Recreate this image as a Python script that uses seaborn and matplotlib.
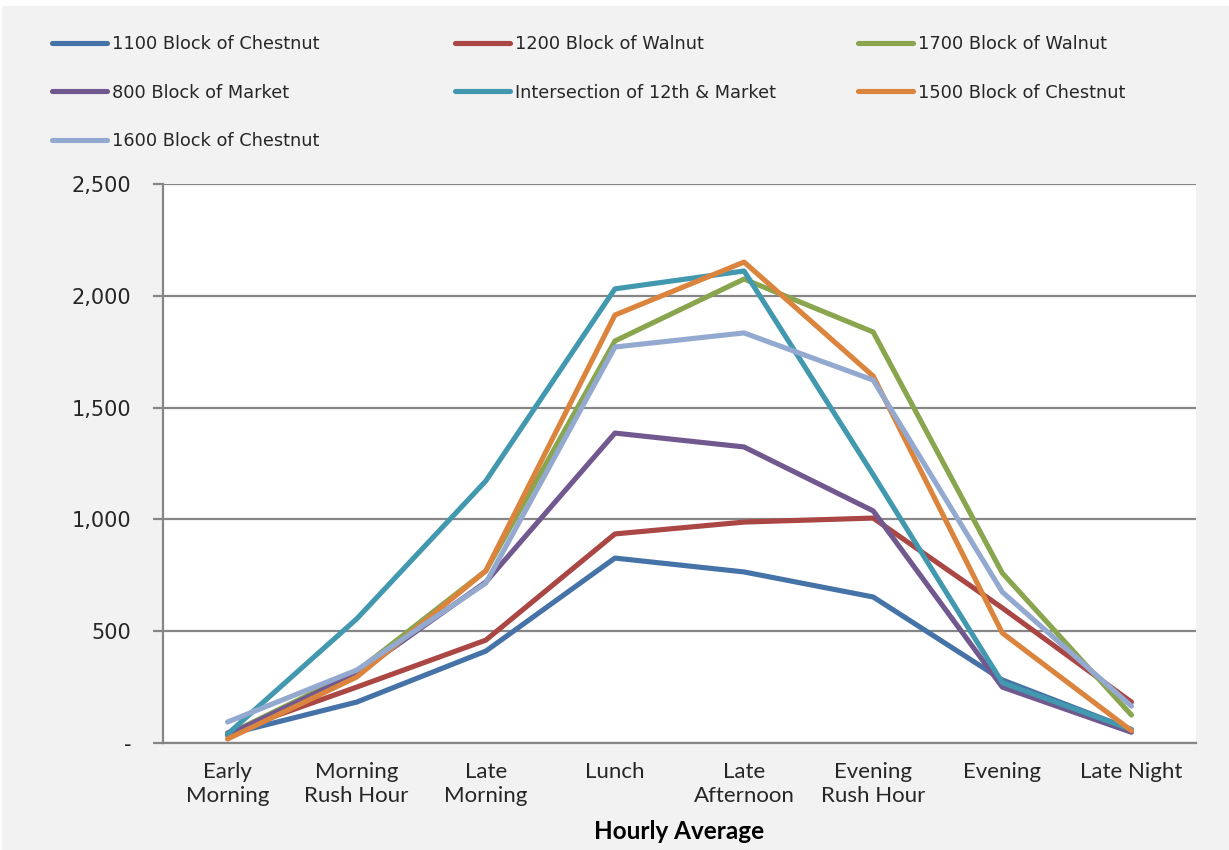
import matplotlib
matplotlib.use("Agg")
import matplotlib.pyplot as plt
import seaborn as sns
import pandas as pd
from matplotlib.patches import Rectangle
from matplotlib.ticker import FixedLocator, FuncFormatter

categories = ["Early\nMorning", "Morning\nRush Hour", "Late\nMorning", "Lunch",
              "Late\nAfternoon", "Evening\nRush Hour", "Evening", "Late Night"]

series_names = ["1100 Block of Chestnut", "1200 Block of Walnut", "1700 Block of Walnut",
                "800 Block of Market", "Intersection of 12th & Market",
                "1500 Block of Chestnut", "1600 Block of Chestnut"]

chestnut_1100 = [38, 183, 411, 827, 765, 653, 282, 60]
walnut_1200 = [45, 250, 460, 935, 988, 1006, 604, 183]
walnut_1700 = [38, 320, 770, 1798, 2075, 1838, 760, 125]
market_800 = [35, 310, 720, 1386, 1324, 1038, 250, 48]
intersection_12th = [40, 555, 1172, 2031, 2111, 1200, 270, 60]
chestnut_1500 = [18, 295, 770, 1914, 2151, 1641, 492, 55]
chestnut_1600 = [94, 326, 715, 1771, 1834, 1623, 675, 165]

colors = ["#4572A7", "#AA4643", "#89A54E", "#71588F", "#4198AF", "#DB843D", "#93A9CF"]

values = [chestnut_1100, walnut_1200, walnut_1700, market_800,
          intersection_12th, chestnut_1500, chestnut_1600]

rows = []
for name, vals in zip(series_names, values):
    for c, v in zip(categories, vals):
        rows.append({"Category": c, "Series": name, "Value": v})
df = pd.DataFrame(rows)

sns.set_theme(style="white")
plt.rcParams["font.family"] = ["DejaVu Sans"]

fig = plt.figure(figsize=(12.29, 8.5), dpi=100, facecolor="white")
fig.patches.append(Rectangle((2 / 1229, 0), 1, 1 - 6 / 850, transform=fig.transFigure,
                             facecolor="#f2f2f2", edgecolor="none", zorder=-10))
ax = fig.add_axes([163 / 1229, 1 - 743 / 850, (1196 - 163) / 1229, (743 - 184) / 850])
ax.set_facecolor("white")

sns.lineplot(data=df, x="Category", y="Value", hue="Series", hue_order=series_names,
             palette=colors, linewidth=3.7, ax=ax, sort=False, legend=False)

ax.set_xlim(-0.5, len(categories) - 0.5)
ax.set_ylim(0, 2500)
ax.yaxis.set_major_locator(FixedLocator([0, 500, 1000, 1500, 2000, 2500]))
ax.yaxis.set_major_formatter(FuncFormatter(lambda v, p: "-" if v == 0 else f"{int(v):,}"))
ax.grid(axis="y", color="#868686", linewidth=1.6)
ax.set_axisbelow(True)

for s in ["top", "right"]:
    ax.spines[s].set_visible(False)
for s in ["left", "bottom"]:
    ax.spines[s].set_color("#868686")
    ax.spines[s].set_linewidth(1.6)

ax.set_xticks(range(len(categories)))
ax.set_xticklabels(categories, fontfamily="Lato", fontsize=16, color="#262626", linespacing=1.2)
ax.set_xticks([i - 0.5 for i in range(len(categories) + 1)], minor=True)
ax.tick_params(axis="x", which="major", length=0, pad=14)
ax.tick_params(axis="x", which="minor", length=6, width=1.6, color="#868686", direction="out")
ax.tick_params(axis="y", which="major", length=7, width=1.6, color="#868686", direction="out",
               labelsize=15, labelcolor="#262626", pad=16, left=True)
ax.set_xlabel("Hourly Average", fontfamily="Lato", fontsize=17.5, fontweight="bold",
              color="black", labelpad=10)
ax.set_ylabel("")

lines = ax.get_lines()
handles = {}
for ln, name in zip(lines[:len(series_names)], series_names):
    handles[name] = ln

cols = [
    (52, ["1100 Block of Chestnut", "800 Block of Market", "1600 Block of Chestnut"]),
    (455, ["1200 Block of Walnut", "Intersection of 12th & Market"]),
    (858, ["1700 Block of Walnut", "1500 Block of Chestnut"]),
]
for xpx, names in cols:
    leg = fig.legend([handles[n] for n in names], names,
                     loc="upper left", bbox_to_anchor=(xpx / 1229, 1 - 35 / 850),
                     frameon=False, fontsize=12.8, handlelength=3.1, handletextpad=0.25,
                     labelspacing=1.72, borderaxespad=0, borderpad=0)
    for t in leg.get_texts():
        t.set_color("#262626")

fig.savefig("out.png", dpi=100, facecolor=fig.get_facecolor())
